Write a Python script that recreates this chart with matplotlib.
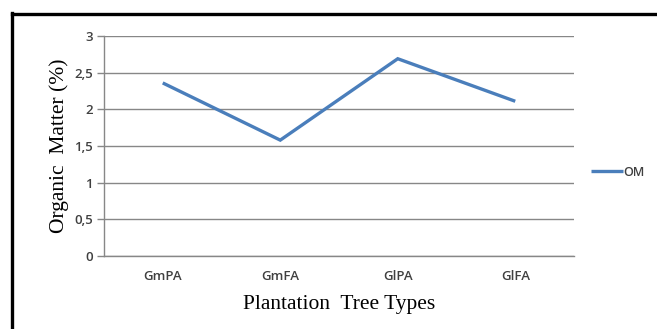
import matplotlib
matplotlib.use("Agg")
import matplotlib.pyplot as plt
from matplotlib.lines import Line2D

categories = ["GmPA", "GmFA", "GlPA", "GlFA"]
om_values = [2.36, 1.58, 2.69, 2.11]
y_ticks = [0, 0.5, 1, 1.5, 2, 2.5, 3]
y_tick_labels = ["0", "0,5", "1", "1,5", "2", "2,5", "3"]

W, H = 657, 329
fig = plt.figure(figsize=(W / 100, H / 100), dpi=100)
ax = fig.add_axes([104 / W, (H - 256) / H, 470 / W, 220 / H])

x = list(range(len(categories)))
line, = ax.plot(x, om_values, color="#4A7EBB", linewidth=2.4, solid_capstyle="butt",
                solid_joinstyle="miter", label="OM")

ax.set_xlim(-0.5, len(categories) - 0.5)
ax.set_ylim(0, 3)
ax.set_yticks(y_ticks)
ax.set_yticklabels(y_tick_labels)
ax.set_xticks(x)
ax.set_xticklabels(categories)

for lab in ax.get_xticklabels() + ax.get_yticklabels():
    lab.set_fontfamily(["Open Sans", "DejaVu Sans"])
    lab.set_fontsize(9.5)
    lab.set_fontweight("semibold")
    lab.set_color("#404040")

ax.tick_params(axis="x", length=0, pad=10)
ax.tick_params(axis="y", length=5, width=1, color="#878787", pad=3)
ax.grid(axis="y", color="#878787", linewidth=1)
ax.set_axisbelow(True)
for s in ["top", "right"]:
    ax.spines[s].set_visible(False)
for s in ["left", "bottom"]:
    ax.spines[s].set_color("#878787")
    ax.spines[s].set_linewidth(1)

ax.set_xlabel("Plantation  Tree Types", family="Liberation Serif", size=15.5, labelpad=9)
ax.set_ylabel("Organic  Matter (%)", family="Liberation Serif", size=15.5, labelpad=4)

leg = fig.legend(handles=[line], labels=["OM"], loc="center left",
                 bbox_to_anchor=(580 / W, 1 - 172 / H), frameon=False,
                 handlelength=2.5, handletextpad=0.1,
                 prop={"family": ["Open Sans", "DejaVu Sans"], "size": 9, "weight": "semibold"})
for t in leg.get_texts():
    t.set_color("#404040")

# outer black frame (left and top edges)
fig.add_artist(Line2D([11.5 / W, 11.5 / W], [0, 1 - 12.5 / H], transform=fig.transFigure,
                      color="black", linewidth=2.4, solid_capstyle="projecting"))
fig.add_artist(Line2D([11.5 / W, 1], [1 - 13.5 / H, 1 - 13.5 / H], transform=fig.transFigure,
                      color="black", linewidth=2.4, solid_capstyle="projecting"))

fig.savefig("out.png", dpi=100)
